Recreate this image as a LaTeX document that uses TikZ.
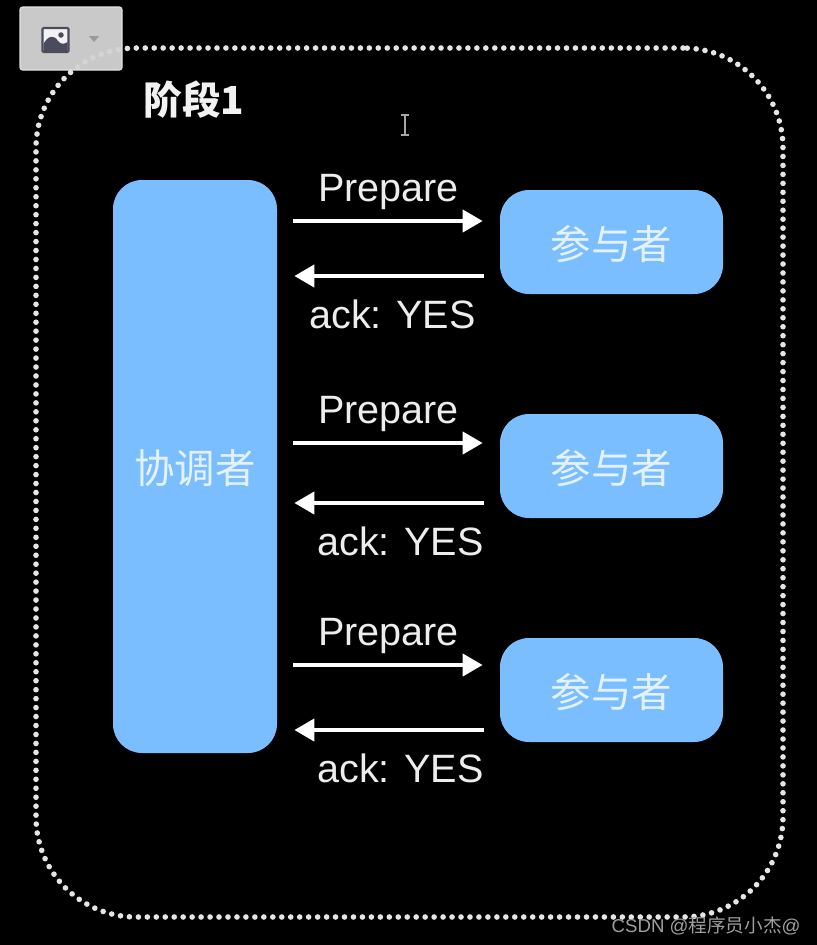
\documentclass[tikz,border=0pt]{standalone}
\usepackage{fontspec}
\setmainfont{Liberation Sans}
\newfontfamily\cjk{Noto Sans CJK SC}
\usetikzlibrary{calc,arrows.meta}
\definecolor{boxblue}{HTML}{7ABEFF}
\definecolor{boxtext}{HTML}{E4F1FF}
\definecolor{labeltext}{HTML}{EDEDED}
\definecolor{iconbox}{HTML}{D4D4D4}
\definecolor{icondark}{HTML}{4A4C5E}

\begin{document}
\begin{tikzpicture}
     \tikzstyle{block}=[fill=boxblue,text=boxtext,rounded corners=0.58cm,inner sep=0pt,text height=0.75cm,text depth=0.06cm,font=\cjk\fontsize{23}{23}\selectfont]
     \tikzstyle{party}=[block,minimum width=4.46cm,minimum height=2.08cm]
     \tikzstyle{msg}=[draw=white,line width=2.3pt,-{Triangle[length=0.4cm,width=0.44cm]},shorten >=0.34cm,shorten <=0.32cm]
     \tikzstyle{txt}=[text=labeltext,inner sep=0pt,font=\fontsize{22.5}{22.5}\selectfont]

     \fill[black] (0,0) rectangle (16.34,-18.9);
     \useasboundingbox (0,0) rectangle (16.34,-18.9);

     % outer frame
     \node[draw=white!90!black,line width=3.2pt,line cap=round,dash pattern=on 0pt off 5.1pt,
           rounded corners=2cm,minimum width=14.94cm,minimum height=17.38cm] (frame) at (8.19,-9.65) {};
     \node[text=white!95!black,inner sep=0pt,font=\cjk\bfseries\fontsize{22}{22}\selectfont] (title) at (3.88,-2.0) {阶段1};

     \node[block,minimum width=3.28cm,minimum height=11.46cm] (C) at (3.9,-9.33) {协调者};
     \node[party] (P1) at (12.23,-4.84) {参与者};
     \node[party] (P2) at (12.23,-9.32) {参与者};
     \node[party] (P3) at (12.23,-13.8) {参与者};

     % up, down: arrow offsets from the box centre; ackx: shift of the ack label
     \foreach \i/\up/\down/\ackx in {1/0.42/0.68/0.08, 2/0.46/0.74/0.24, 3/0.5/0.8/0.24}
     {
       \draw[msg] ($(C.east |- P\i.west) + (0,\up)$) -- ($(P\i.west) + (0,\up)$)
       node [midway, above=0.18cm, txt] (prep\i) {Prepare};
       \draw[msg] ($(P\i.west) - (0,\down)$) -- ($(C.east |- P\i.west) - (0,\down)$)
       node [midway, below=0.44cm, xshift=\ackx cm, txt] (ack\i) {ack: YES};
     }

     % toolbar button
     \node[fill=iconbox,fill opacity=0.95,draw=iconbox!70!white,line width=0.6pt,rounded corners=0.05cm,
           minimum width=2.04cm,minimum height=1.26cm] (btn) at (1.42,-0.77) {};
     \draw[icondark,line width=1.2pt,fill=white!95!black,rounded corners=0.02cm] (0.85,-0.56) rectangle (1.37,-1.04);
     \fill[icondark] (0.87,-1.02) -- (0.87,-0.88) .. controls (0.95,-0.72) and (1.08,-0.68) .. (1.16,-0.82)
        .. controls (1.22,-0.9) and (1.3,-0.88) .. (1.35,-0.84) -- (1.35,-1.02) -- cycle;
     \fill[icondark] (1.22,-0.7) circle (0.055);
     \fill[gray!80] (1.78,-0.72) -- (1.98,-0.72) -- (1.88,-0.84) -- cycle;

     % text cursor
     \draw[gray!70,line width=0.8pt] (8.1,-2.32) -- (8.1,-2.68)
        (8.02,-2.3) -- (8.18,-2.3) (8.02,-2.7) -- (8.18,-2.7);

     \node[text=gray!75,anchor=east,inner sep=0pt,font=\fontsize{10.6}{11}\selectfont] (mark) at (16.02,-18.52)
        {CSDN @{\cjk 程序员小杰}@};
\end{tikzpicture}
\end{document}
